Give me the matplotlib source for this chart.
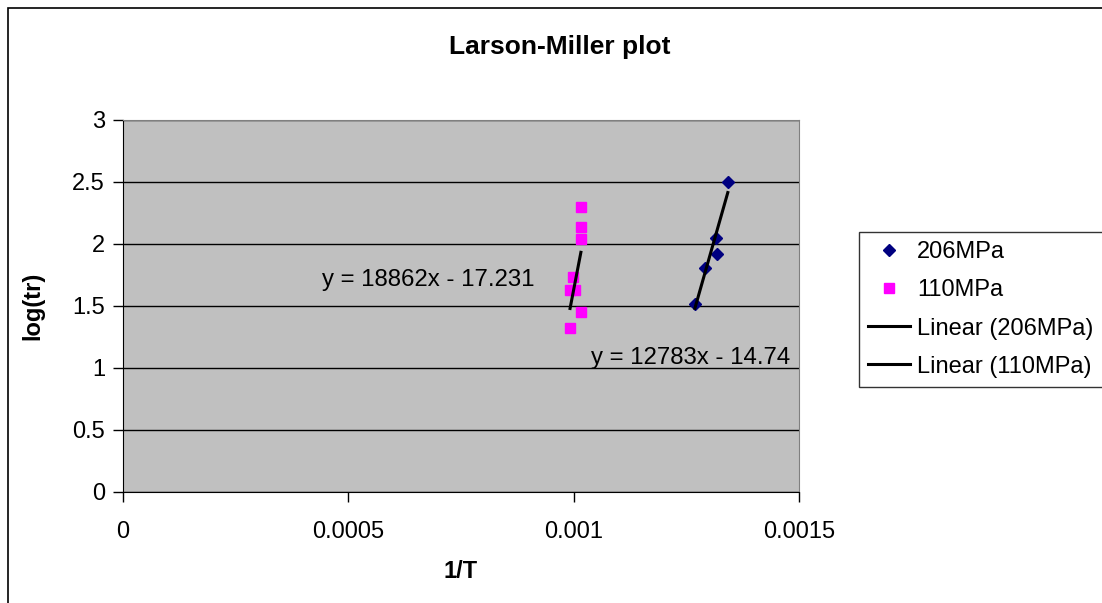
import matplotlib
matplotlib.use("Agg")
import matplotlib.pyplot as plt
from matplotlib.patches import Rectangle
import numpy as np

plt.rcParams['font.family'] = ['Liberation Sans', 'DejaVu Sans']

# data (1/T, log(tr))
x_206 = [0.001342, 0.001315, 0.001317, 0.001291, 0.001269]
y_206 = [2.50, 2.05, 1.92, 1.81, 1.52]
x_110 = [0.001016, 0.001016, 0.001016, 0.000999, 0.000992, 0.001002, 0.001016, 0.000992]
y_110 = [2.30, 2.14, 2.04, 1.73, 1.63, 1.63, 1.45, 1.32]

# trendline coefficients as printed on the chart
fit_206 = (12783, -14.74)
fit_110 = (18862, -17.231)

fig = plt.figure(figsize=(11.02, 6.03), dpi=100)
ax = fig.add_axes([123/1102, 1 - 492/603, 676/1102, 372/603])
ax.set_facecolor('#C0C0C0')

ax.plot(x_206, y_206, 'D', color='#000080', ms=6.5, ls='none', label='206MPa', zorder=3)
ax.plot(x_110, y_110, 's', color='#FF00FF', ms=6.5, ls='none', label='110MPa', zorder=3)

xs = np.array([min(x_206), max(x_206)])
ax.plot(xs, fit_206[0]*xs + fit_206[1], color='black', lw=2.2, label='Linear (206MPa)', zorder=4)
xs = np.array([min(x_110), max(x_110)])
ax.plot(xs, fit_110[0]*xs + fit_110[1], color='black', lw=2.2, label='Linear (110MPa)', zorder=4)

ax.text(0.0004416, 1.71, 'y = 18862x - 17.231', fontsize=17.3, va='center', ha='left')
ax.text(0.0010385, 1.08, 'y = 12783x - 14.74', fontsize=17.3, va='center', ha='left')

ax.set_xlim(0, 0.0015)
ax.set_ylim(0, 3)
ax.set_xticks([0, 0.0005, 0.001, 0.0015])
ax.set_xticklabels(['0', '0.0005', '0.001', '0.0015'])
ax.set_yticks([0, 0.5, 1, 1.5, 2, 2.5, 3])
ax.set_yticklabels(['0', '0.5', '1', '1.5', '2', '2.5', '3'])
ax.tick_params(labelsize=17, length=7, width=1, direction='out', color='black')
ax.tick_params(axis='x', pad=14)
ax.tick_params(axis='y', pad=6)
ax.yaxis.grid(True, color='black', lw=1)
ax.set_axisbelow(True)
for s in ['top', 'right']:
    ax.spines[s].set_color('#808080')
for s in ['left', 'bottom']:
    ax.spines[s].set_color('black')

ax.set_xlabel('1/T', fontsize=17, fontweight='bold', labelpad=12)
ax.set_ylabel('log(tr)', fontsize=17, fontweight='bold', labelpad=20)
fig.text(560/1102, 1 - 47/603, 'Larson-Miller plot', fontsize=19, fontweight='bold',
         ha='center', va='center')

leg = fig.legend(loc='upper left', bbox_to_anchor=(859/1102, 1 - 232/603), fontsize=17,
                 frameon=True, fancybox=False, edgecolor='black', handlelength=1.75,
                 handletextpad=0.3, labelspacing=0.68, borderpad=0.4, borderaxespad=0)
leg.get_frame().set_linewidth(1)

fig.patches.append(Rectangle((8/1102, -0.2), 1.5, 1.2 - 8/603, transform=fig.transFigure,
                             fill=False, edgecolor='black', lw=1.2))

fig.savefig('out.png', dpi=100)
